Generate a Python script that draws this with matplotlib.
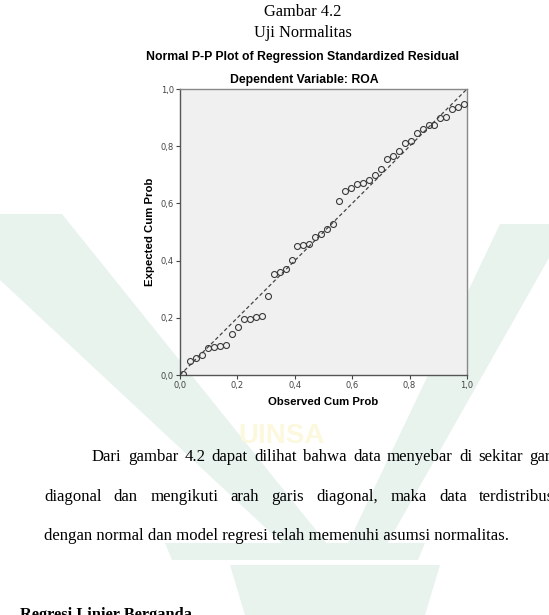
import matplotlib
matplotlib.use("Agg")
import matplotlib.pyplot as plt
from matplotlib.patches import Polygon
from matplotlib.ticker import FuncFormatter

# ── Data ─────────────────────────────────────────────────────────────────────
observed_cum_prob = [
    0.010, 0.035, 0.056, 0.075, 0.097, 0.118, 0.139, 0.160, 0.181, 0.202,
    0.223, 0.244, 0.265, 0.286, 0.305, 0.327, 0.348, 0.369, 0.390, 0.409,
    0.430, 0.451, 0.470, 0.492, 0.512, 0.532, 0.555, 0.575, 0.596, 0.617,
    0.639, 0.657, 0.679, 0.699, 0.721, 0.742, 0.762, 0.784, 0.804, 0.825,
    0.846, 0.867, 0.886, 0.906, 0.927, 0.948, 0.967, 0.990,
]
expected_cum_prob = [
    0.003, 0.049, 0.060, 0.070, 0.095, 0.099, 0.101, 0.105, 0.143, 0.169,
    0.195, 0.196, 0.204, 0.206, 0.276, 0.353, 0.361, 0.369, 0.402, 0.451,
    0.453, 0.458, 0.481, 0.493, 0.509, 0.528, 0.609, 0.643, 0.653, 0.667,
    0.670, 0.682, 0.701, 0.719, 0.754, 0.766, 0.784, 0.812, 0.818, 0.845,
    0.859, 0.874, 0.874, 0.897, 0.903, 0.929, 0.936, 0.948,
]
tick_values = [0.0, 0.2, 0.4, 0.6, 0.8, 1.0]

W, H = 549, 615


def fx(x):
    return x / W


def fy(y):
    return 1 - y / H


fig = plt.figure(figsize=(W / 100, H / 100), dpi=100)
fig.patch.set_facecolor("white")
renderer = fig.canvas.get_renderer()

# ── Watermark (faint logo behind the page) ───────────────────────────────────
wm_green = "#e8f3ee"
shapes = [
    [(0, 214), (62, 214), (340, 560), (300, 560), (0, 280)],
    [(500, 224), (549, 224), (549, 258), (378, 560), (340, 560)],
    [(165, 543), (425, 543), (418, 560), (172, 560)],
    [(230, 565), (440, 565), (425, 615), (245, 615)],
]
for pts in shapes:
    fig.patches.append(Polygon([(fx(x), fy(y)) for x, y in pts], closed=True,
                               transform=fig.transFigure, facecolor=wm_green,
                               edgecolor="none", zorder=-5))
fig.text(fx(282), fy(436), "UINSA", ha="center", va="center", fontsize=20,
         fontweight="bold", color="#fcf8de", family="Liberation Sans", zorder=-4)

# ── Document captions ────────────────────────────────────────────────────────
serif = "Liberation Serif"
fig.text(fx(303), fy(12), "Gambar 4.2", ha="center", va="center",
         fontsize=11.8, family=serif)
fig.text(fx(303), fy(33), "Uji Normalitas", ha="center", va="center",
         fontsize=11.8, family=serif)
fig.text(fx(303), fy(57), "Normal P-P Plot of Regression Standardized Residual",
         ha="center", va="center", fontsize=8.8, fontweight="bold",
         family="Liberation Sans")
fig.text(fx(304), fy(80), "Dependent Variable: ROA", ha="center", va="center",
         fontsize=8.8, fontweight="bold", family="Liberation Sans")

# ── P-P plot ─────────────────────────────────────────────────────────────────
ax = fig.add_axes([fx(180), fy(375), (467 - 180) / W, (375 - 89) / H])
ax.set_facecolor("#f0f0f0")
ax.plot([0, 1], [0, 1], color="#444444", lw=0.9, ls=(0, (3, 2)), zorder=2)
ax.plot(observed_cum_prob, expected_cum_prob, ls="none", marker="o",
        markersize=4.3, markerfacecolor="none", markeredgecolor="#3a3a3a",
        markeredgewidth=0.8, zorder=3)
ax.set_xlim(0, 1)
ax.set_ylim(0, 1)
ax.set_xticks(tick_values)
ax.set_yticks(tick_values)
comma = FuncFormatter(lambda v, _: f"{v:.1f}".replace(".", ","))
ax.xaxis.set_major_formatter(comma)
ax.yaxis.set_major_formatter(comma)
ax.tick_params(direction="out", length=3, width=0.8, color="#444444",
               labelsize=6, labelcolor="#444444", pad=1.5)
for side, sp in ax.spines.items():
    sp.set_color("#555555" if side in ("left", "bottom") else "#888888")
    sp.set_linewidth(1.0)
ax.set_xlabel("Observed Cum Prob", fontsize=8.2, fontweight="bold",
              family="Liberation Sans", labelpad=5)
ax.set_ylabel("Expected Cum Prob", fontsize=8.2, fontweight="bold",
              family="Liberation Sans", labelpad=4)

# ── Body text ────────────────────────────────────────────────────────────────
body_size = 12.1


def justified_line(words, left_px, right_px, y_px):
    """Spread words evenly between left_px and right_px (page is cropped)."""
    items = []
    total_w = 0
    for w in words:
        t = fig.text(0, 0, w, fontsize=body_size, family=serif, va="center")
        bw = t.get_window_extent(renderer).width
        items.append((t, bw))
        total_w += bw
    gap = (right_px - left_px - total_w) / (len(words) - 1)
    x = left_px
    for t, bw in items:
        t.set_position((fx(x), fy(y_px)))
        x += bw + gap


justified_line(["Dari", "gambar", "4.2", "dapat", "dilihat", "bahwa", "data",
                "menyebar", "di", "sekitar", "garis"], 92, 562, 457)
justified_line(["diagonal", "dan", "mengikuti", "arah", "garis", "diagonal,",
                "maka", "data", "terdistribusi"], 44, 559, 497)

fig.text(fx(44), fy(536), "dengan normal dan model regresi telah memenuhi "
         "asumsi normalitas.", ha="left", va="center", fontsize=body_size,
         family=serif)
fig.text(fx(20), fy(619), "Regresi Linier Berganda", ha="left",
         va="baseline", fontsize=11.8, fontweight="bold", family=serif)

fig.savefig("out.png", dpi=100)
